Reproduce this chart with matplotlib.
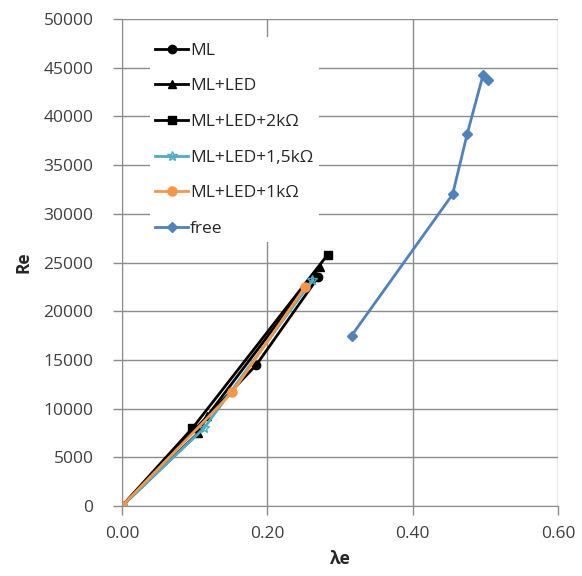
import numpy as np
import matplotlib.pyplot as plt

plt.rcParams['font.family'] = ['Open Sans', 'DejaVu Sans']

# Data.
ml_x = [0.0, 0.185, 0.270]
ml_y = [0, 14500, 23500]
led_x = [0.0, 0.105, 0.117, 0.272]
led_y = [0, 7500, 9200, 24500]
k2_x = [0.0, 0.097, 0.283]
k2_y = [0, 8000, 25800]
k15_x = [0.0, 0.113, 0.262]
k15_y = [0, 8000, 23200]
k1_x = [0.0, 0.152, 0.252]
k1_y = [0, 11700, 22500]
free_x = [0.316, 0.455, 0.475, 0.497, 0.503]
free_y = [17500, 32000, 38200, 44300, 43700]

series = [
    ('ML', ml_x, ml_y, 'black', 'o', 6),
    ('ML+LED', led_x, led_y, 'black', '^', 6),
    ('ML+LED+2k\u03a9', k2_x, k2_y, 'black', 's', 6),
    ('ML+LED+1,5k\u03a9', k15_x, k15_y, '#4BACC6', '*', 7),
    ('ML+LED+1k\u03a9', k1_x, k1_y, '#F79646', 'o', 6.5),
    ('free', free_x, free_y, '#4F81BD', 'D', 5.5),
]

fig = plt.figure(figsize=(5.82, 5.76), dpi=100)
ax = fig.add_axes([0.2096, 0.1215, 0.7492, 0.8455])

for name, xs, ys, col, mk, ms in series:
    if mk == '*':
        ax.plot(xs, ys, color=col, lw=2, marker=mk, ms=ms,
                markerfacecolor='none', markeredgewidth=1, label=name)
    else:
        ax.plot(xs, ys, color=col, lw=2, marker=mk, ms=ms, label=name)

ax.set_xlim(0, 0.6)
ax.set_ylim(0, 50000)
ax.set_xticks(np.arange(0, 0.61, 0.2))
ax.set_yticks(np.arange(0, 50001, 5000))
ax.set_xticklabels(['%.2f' % v for v in np.arange(0, 0.61, 0.2)])
ax.grid(True, color='#8c8c8c', lw=1)
ax.set_axisbelow(True)
for s in ['top', 'right']:
    ax.spines[s].set_visible(False)
for s in ['left', 'bottom']:
    ax.spines[s].set_color('#8c8c8c')
ax.tick_params(colors='#8c8c8c', labelcolor='#404040', labelsize=12.5,
               length=6.5, width=1)
ax.tick_params(axis='y', pad=14)
ax.tick_params(axis='x', pad=8)
ax.set_xlabel('\u03bbe', fontweight='bold', fontsize=12.5, color='#262626',
              labelpad=6)
ax.set_ylabel('Re', fontweight='bold', fontsize=12.5, color='#262626',
              labelpad=8)

leg = ax.legend(loc='upper left', bbox_to_anchor=(0.045, 0.98), frameon=True,
                fontsize=12.5, labelspacing=1.12, handlelength=1.9,
                handletextpad=0.1, borderpad=0.3)
leg.get_frame().set_edgecolor('none')
leg.get_frame().set_facecolor('white')
leg.get_frame().set_alpha(1)
for t in leg.get_texts():
    t.set_color('#262626')

plt.savefig('out.png', dpi=100)
